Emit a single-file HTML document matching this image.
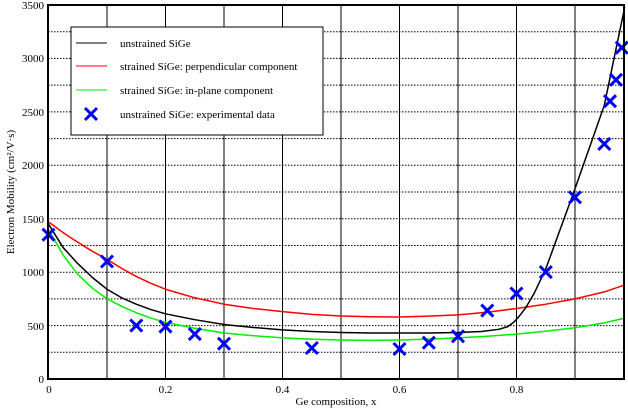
<!DOCTYPE html>
<html><head><style>body{margin:0;background:#fff}svg{display:block}text{font-family:"Liberation Serif",serif;font-size:11px}</style></head><body>
<svg width="628" height="408" viewBox="0 0 628 408">
<rect width="628" height="408" fill="#fff"/>
<g stroke="#000" stroke-width="1">
<g stroke-dasharray="1.5,1.5">
<line x1="48" x2="624" y1="325.6" y2="325.6"/><line x1="48" x2="624" y1="272.2" y2="272.2"/><line x1="48" x2="624" y1="218.7" y2="218.7"/><line x1="48" x2="624" y1="165.3" y2="165.3"/><line x1="48" x2="624" y1="111.9" y2="111.9"/><line x1="48" x2="624" y1="58.4" y2="58.4"/>
<line x1="48" x2="624" y1="352.3" y2="352.3"/><line x1="48" x2="624" y1="298.9" y2="298.9"/><line x1="48" x2="624" y1="245.5" y2="245.5"/><line x1="48" x2="624" y1="192" y2="192"/><line x1="48" x2="624" y1="138.6" y2="138.6"/><line x1="48" x2="624" y1="85.1" y2="85.1"/><line x1="48" x2="624" y1="31.7" y2="31.7"/>
</g>
<line x1="107" x2="107" y1="5" y2="379"/><line x1="165.5" x2="165.5" y1="5" y2="379"/><line x1="224" x2="224" y1="5" y2="379"/><line x1="282.5" x2="282.5" y1="5" y2="379"/><line x1="341" x2="341" y1="5" y2="379"/><line x1="399.5" x2="399.5" y1="5" y2="379"/><line x1="458" x2="458" y1="5" y2="379"/><line x1="516.5" x2="516.5" y1="5" y2="379"/><line x1="575" x2="575" y1="5" y2="379"/>
</g>
<g transform="translate(48.5,379) scale(585,-0.10686)" fill="none" stroke-width="1.5" stroke-linejoin="round">
<polyline vector-effect="non-scaling-stroke" stroke="#f00" points="0,1470 0.025,1370 0.05,1280 0.075,1195 0.1,1120 0.125,1035 0.15,960 0.175,895 0.2,840 0.25,760 0.3,700 0.35,660 0.4,630 0.45,605 0.5,590 0.55,582 0.6,580 0.65,588 0.7,600 0.75,625 0.8,660 0.85,700 0.9,750 0.95,815 0.985,880"/>
<polyline vector-effect="non-scaling-stroke" stroke="#0e0" points="0,1400 0.025,1160 0.05,980 0.075,850 0.1,750 0.125,680 0.15,620 0.175,570 0.2,530 0.25,475 0.3,430 0.35,405 0.4,385 0.45,372 0.5,365 0.55,362 0.6,365 0.65,373 0.7,385 0.75,400 0.8,420 0.85,447 0.9,480 0.95,525 0.985,570"/>
<polyline vector-effect="non-scaling-stroke" stroke="#000" points="0,1450 0.025,1230 0.05,1080 0.075,950 0.1,840 0.125,760 0.15,700 0.175,650 0.2,610 0.25,555 0.3,510 0.35,482 0.4,460 0.45,445 0.5,435 0.55,431 0.6,430 0.65,431 0.7,435 0.74,445 0.77,465 0.785,490 0.795,530 0.805,590 0.815,660 0.83,800 0.85,1030 0.9,1780 0.95,2560 0.985,3480"/>
</g>
<g stroke="#00f" stroke-width="3">
<path d="M42.5,228.7l12,12m0,-12l-12,12 M101,255.5l12,12m0,-12l-12,12 M130.3,319.6l12,12m0,-12l-12,12 M159.5,320.6l12,12m0,-12l-12,12 M188.8,328.1l12,12m0,-12l-12,12 M218,337.7l12,12m0,-12l-12,12 M305.8,342l12,12m0,-12l-12,12 M393.5,343l12,12m0,-12l-12,12 M422.8,336.7l12,12m0,-12l-12,12 M452,330.3l12,12m0,-12l-12,12 M481.3,304.6l12,12m0,-12l-12,12 M510.5,287.5l12,12m0,-12l-12,12 M539.8,266.1l12,12m0,-12l-12,12 M569,191.3l12,12m0,-12l-12,12 M598.3,137.9l12,12m0,-12l-12,12 M604,95.2l12,12m0,-12l-12,12 M610,73.8l12,12m0,-12l-12,12 M615.8,41.7l12,12m0,-12l-12,12"/>
</g>
<rect x="48" y="5" width="576" height="374" fill="none" stroke="#000" stroke-width="2"/>
<rect x="71" y="27" width="252" height="108" fill="#fff" stroke="#000" stroke-width="1"/>
<line x1="76" x2="107" y1="43" y2="43" stroke="#000"/>
<line x1="76" x2="107" y1="66" y2="66" stroke="#f00"/>
<line x1="76" x2="107" y1="90" y2="90" stroke="#0e0"/>
<path d="M85,108l12,12m0,-12l-12,12" stroke="#00f" stroke-width="3"/>
<text x="120" y="47">unstrained SiGe</text>
<text x="120" y="70">strained SiGe: perpendicular component</text>
<text x="120" y="94">strained SiGe: in-plane component</text>
<text x="120" y="118">unstrained SiGe: experimental data</text>
<g text-anchor="end">
<text x="44" y="383">0</text><text x="44" y="330">500</text><text x="44" y="276">1000</text><text x="44" y="223">1500</text><text x="44" y="169">2000</text><text x="44" y="116">2500</text><text x="44" y="62">3000</text><text x="44" y="9">3500</text>
</g>
<g text-anchor="middle">
<text x="49" y="393">0</text><text x="165.5" y="393">0.2</text><text x="282.5" y="393">0.4</text><text x="399.5" y="393">0.6</text><text x="516.5" y="393">0.8</text>
<text x="336" y="405">Ge composition, x</text>
<text transform="translate(14,192) rotate(-90)">Electron Mobility (cm²/V·s)</text>
</g>
</svg>
</body></html>
